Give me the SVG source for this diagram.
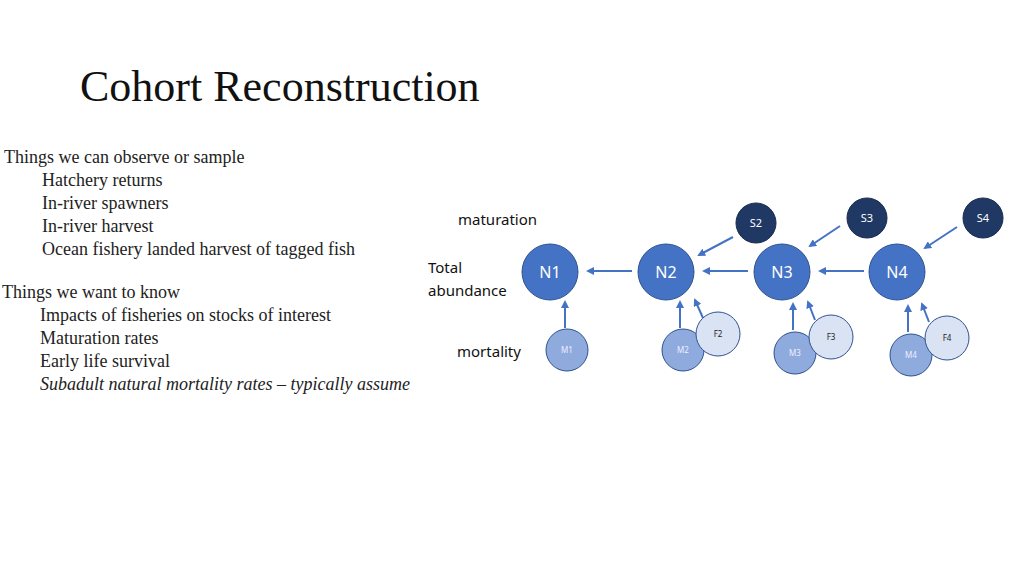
<svg xmlns="http://www.w3.org/2000/svg" width="1024" height="576" viewBox="0 0 1024 576">
<style>
.t{font-family:"Liberation Serif",serif;font-size:18px;fill:#222}
.s{font-family:"Noto Sans","Liberation Sans",sans-serif;font-size:15px;fill:#111}
.n{fill:#4472c4;stroke:#2f528f;stroke-width:1}
.sn{fill:#203864;stroke:#1a2d50}
.m{fill:#8faadc;stroke:#2f528f}
.f{fill:#dae3f3;stroke:#2f528f}
.nl{font-family:"Noto Sans","Liberation Sans",sans-serif;font-size:16px;fill:#fff;text-anchor:middle}
.sl{font-family:"Noto Sans","Liberation Sans",sans-serif;font-size:11px;fill:#fff;text-anchor:middle}
.ml{font-family:"Noto Sans","Liberation Sans",sans-serif;font-size:8px;fill:#eef;text-anchor:middle}
.fl{font-family:"Noto Sans","Liberation Sans",sans-serif;font-size:8px;fill:#222;text-anchor:middle}
.c line{stroke:#4472c4;stroke-width:2;marker-end:url(#a)}
</style>
<defs><marker id="a" markerWidth="8" markerHeight="8" refX="6" refY="4" orient="auto" markerUnits="userSpaceOnUse"><path d="M0,0L8,4L0,8z" fill="#4472c4"/></marker></defs>
<rect width="1024" height="576" fill="#fff"/>
<text x="80" y="101" font-family="Liberation Serif,serif" font-size="44" fill="#111">Cohort Reconstruction</text>
<text class="t" x="4" y="163">Things we can observe or sample</text>
<text class="t" x="42" y="186">Hatchery returns</text>
<text class="t" x="42" y="209">In-river spawners</text>
<text class="t" x="42" y="232">In-river harvest</text>
<text class="t" x="42" y="255">Ocean fishery landed harvest of tagged fish</text>
<text class="t" x="2" y="298">Things we want to know</text>
<text class="t" x="40" y="321">Impacts of fisheries on stocks of interest</text>
<text class="t" x="40" y="344">Maturation rates</text>
<text class="t" x="40" y="367">Early life survival</text>
<text class="t" x="40" y="390" font-style="italic">Subadult natural mortality rates – typically assume</text>
<text class="s" x="458" y="225">maturation</text>
<text class="s" x="428" y="273">Total</text>
<text class="s" x="428" y="296">abundance</text>
<text class="s" x="457" y="357">mortality</text>
<g class="c">
<line x1="632" y1="271" x2="588" y2="271"/>
<line x1="748" y1="271" x2="704" y2="271"/>
<line x1="864" y1="271" x2="820" y2="271"/>
<line x1="733" y1="237" x2="699" y2="255"/>
<line x1="840" y1="226" x2="810" y2="246"/>
<line x1="957" y1="227" x2="925" y2="248"/>
<line x1="565" y1="328" x2="565" y2="302"/>
<line x1="680" y1="328" x2="680" y2="302"/>
<line x1="703" y1="318" x2="695" y2="300"/>
<line x1="793" y1="330" x2="793" y2="304"/>
<line x1="815" y1="320" x2="808" y2="302"/>
<line x1="908" y1="332" x2="908" y2="306"/>
<line x1="929" y1="322" x2="922" y2="304"/>
</g>
<g id="S2"><circle class="sn" cx="756" cy="223" r="20"/><text class="sl" x="756" y="227">S2</text></g>
<g id="S3"><circle class="sn" cx="867" cy="218" r="20"/><text class="sl" x="867" y="222">S3</text></g>
<g id="S4"><circle class="sn" cx="983" cy="218" r="20"/><text class="sl" x="983" y="222">S4</text></g>
<g id="N1"><circle class="n" cx="550" cy="272" r="28"/><text class="nl" x="550" y="278">N1</text></g>
<g id="N2"><circle class="n" cx="666" cy="272" r="28"/><text class="nl" x="666" y="278">N2</text></g>
<g id="N3"><circle class="n" cx="782" cy="272" r="28"/><text class="nl" x="782" y="278">N3</text></g>
<g id="N4"><circle class="n" cx="897" cy="272" r="28"/><text class="nl" x="897" y="278">N4</text></g>
<g id="M1"><circle class="m" cx="567" cy="350" r="21"/><text class="ml" x="567" y="353">M1</text></g>
<g id="M2"><circle class="m" cx="683" cy="350" r="21"/><text class="ml" x="683" y="353">M2</text></g>
<g id="F2"><circle class="f" cx="718" cy="334" r="22"/><text class="fl" x="718" y="337">F2</text></g>
<g id="M3"><circle class="m" cx="795" cy="353" r="21"/><text class="ml" x="795" y="356">M3</text></g>
<g id="F3"><circle class="f" cx="831" cy="337" r="22"/><text class="fl" x="831" y="340">F3</text></g>
<g id="M4"><circle class="m" cx="911" cy="355" r="21"/><text class="ml" x="911" y="358">M4</text></g>
<g id="F4"><circle class="f" cx="947" cy="338" r="22"/><text class="fl" x="947" y="341">F4</text></g>
</svg>
